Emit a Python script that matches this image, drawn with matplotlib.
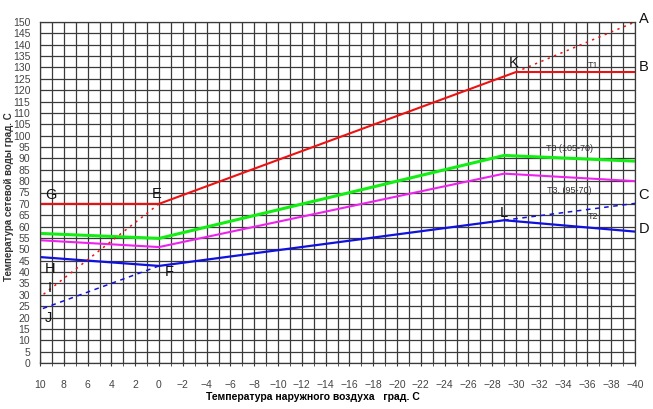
import matplotlib
matplotlib.use("Agg")
import matplotlib.pyplot as plt
from matplotlib.ticker import MultipleLocator

plt.rcParams['font.family'] = ['Liberation Sans', 'DejaVu Sans']

# температура наружного воздуха (точки излома)
x_t1 = [10, 0, -30, -40]
t1 = [70, 70, 128, 128]
x_t3 = [10, 0, -29, -40]
t3_105 = [57, 54.8, 91.3, 88.8]
t3_95 = [54, 51, 83.3, 80]
t2 = [46.6, 42.7, 62.8, 57.8]

# пунктирные продолжения
x_t1_up = [-30, -40]
t1_up = [128, 150]
x_t1_low = [0, 10]
t1_low = [70, 29]
x_t2_up = [-29, -40]
t2_up = [62.8, 70.2]
x_t2_low = [0, 10]
t2_low = [42.7, 23.5]

x_ticks = list(range(10, -41, -2))
y_ticks = list(range(0, 151, 5))

W, H = 653, 409
fig = plt.figure(figsize=(W / 100, H / 100), dpi=100)
ax = fig.add_axes([40 / W, (H - 363) / H, 595 / W, 341 / H])

ax.set_xlim(10, -40)
ax.set_ylim(0, 150)
ax.set_xticks(x_ticks)
ax.set_yticks(y_ticks)
ax.xaxis.set_minor_locator(MultipleLocator(1))
ax.grid(True, which='both', axis='x', color='#3a3a3a', lw=0.9)
ax.grid(True, which='major', axis='y', color='#3a3a3a', lw=0.9)
for s in ax.spines.values():
    s.set_color('#3a3a3a')
    s.set_linewidth(0.9)
ax.tick_params(axis='y', length=0, pad=7, labelsize=7.5, labelcolor='#444444')
ax.tick_params(axis='x', which='both', direction='inout', length=5, color='#3a3a3a',
               pad=10, labelsize=7.5, labelcolor='#444444')

ax.plot(x_t1, t1, color='#ee1111', lw=1.5)
ax.plot(x_t3, t3_105, color='#11ee11', lw=2.2)
ax.plot(x_t3, t3_95, color='#ee22ee', lw=1.5)
ax.plot(x_t3, t2, color='#1111dd', lw=1.6)

ax.plot(x_t1_up, t1_up, color='#ee1111', lw=1.1, ls=(0, (1.5, 3)))
ax.plot(x_t1_low, t1_low, color='#ee1111', lw=1.1, ls=(0, (1.5, 3)))
ax.plot(x_t2_up, t2_up, color='#1111dd', lw=1.1, ls=(0, (3, 3)))
ax.plot(x_t2_low, t2_low, color='#1111dd', lw=1.1, ls=(0, (3, 3)))
ax.plot([10, 10], [18, 38], color='black', lw=1.5)

letters = [
    ('G', 9.6, 74), ('E', 0.6, 74.5), ('H', 9.6, 41.5), ('F', -0.5, 40),
    ('I', 9.4, 33), ('J', 9.6, 20), ('K', -29.4, 132), ('L', -28.6, 66),
]
for t, x, y in letters:
    ax.text(x, y, t, fontsize=10.5, ha='left', va='center', color='#111111')
for t, y in [('A', 151.5), ('B', 130), ('C', 74), ('D', 59)]:
    ax.text(-40.3, y, t, fontsize=10.5, ha='left', va='center', color='#111111', clip_on=False)

ax.text(-36.5, 131, 'T1', fontsize=6.5, ha='center', va='center', color='#333333')
ax.text(-34.5, 94.5, 'T3 (105-70)', fontsize=6.5, ha='center', va='center', color='#333333')
ax.text(-34.5, 76, 'T3. (95-70)', fontsize=6.5, ha='center', va='center', color='#333333')
ax.text(-36.5, 64.5, 'T2', fontsize=6.5, ha='center', va='center', color='#333333')

fig.text(313 / W, 1 - 397 / H, 'Температура наружного воздуха   град. С',
         fontsize=7.5, fontweight='bold', ha='center', va='center')
fig.text(9 / W, 1 - 197 / H, 'Температура сетевой воды град. С',
         fontsize=7, fontweight='bold', rotation=90, ha='center', va='center', color='#333333')

fig.savefig('out.png', dpi=100)
